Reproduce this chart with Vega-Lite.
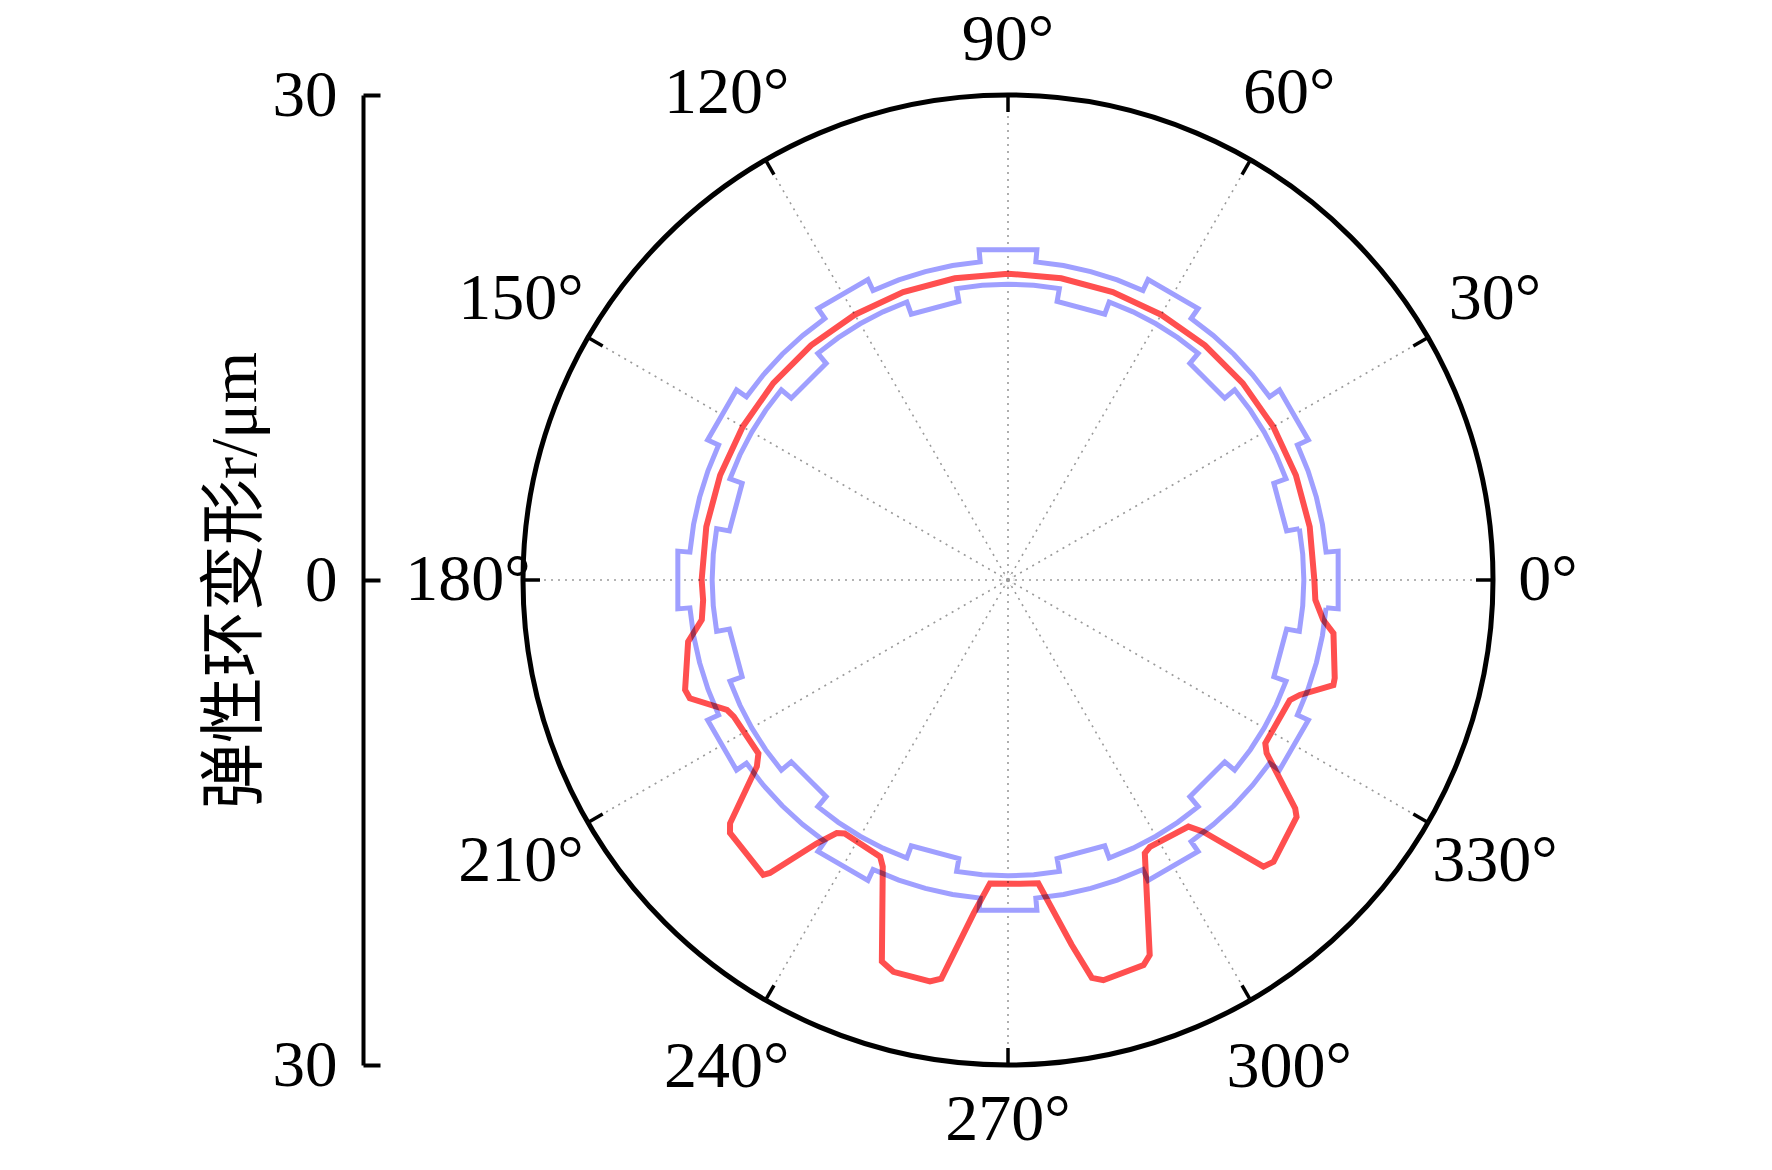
{
  "$schema": "https://vega.github.io/schema/vega-lite/v6.json",
  "width": 970,
  "height": 970,
  "autosize": {"type": "none"},
  "padding": {"left": 523, "top": 95, "right": 279, "bottom": 105},
  "background": "white",
  "view": {"cornerRadius": 485, "stroke": "black", "strokeWidth": 5},
  "datasets": {
    "spokes": [
      {"a": 0}, {"a": 30}, {"a": 60}, {"a": 90}, {"a": 120}, {"a": 150},
      {"a": 180}, {"a": 210}, {"a": 240}, {"a": 270}, {"a": 300}, {"a": 330}
    ],
    "labels": [
      {"t": "0°", "a": 0}, {"t": "30°", "a": 30}, {"t": "60°", "a": 60},
      {"t": "90°", "a": 90}, {"t": "120°", "a": 120}, {"t": "150°", "a": 150},
      {"t": "180°", "a": 180}, {"t": "210°", "a": 210}, {"t": "240°", "a": 240},
      {"t": "270°", "a": 270}, {"t": "300°", "a": 300}, {"t": "330°", "a": 330}
    ],
    "blue": [
      {"s": "o", "a": -5, "r": 19.75}, {"s": "o", "a": -5, "r": 20.5}, {"s": "o", "a": 5, "r": 20.5}, {"s": "o", "a": 5, "r": 19.75}, {"s": "o", "a": 10, "r": 19.75}, {"s": "o", "a": 15, "r": 19.75}, {"s": "o", "a": 20, "r": 19.75},
      {"s": "o", "a": 25, "r": 19.75}, {"s": "o", "a": 25, "r": 20.5}, {"s": "o", "a": 35, "r": 20.5}, {"s": "o", "a": 35, "r": 19.75}, {"s": "o", "a": 40, "r": 19.75}, {"s": "o", "a": 45, "r": 19.75}, {"s": "o", "a": 50, "r": 19.75},
      {"s": "o", "a": 55, "r": 19.75}, {"s": "o", "a": 55, "r": 20.5}, {"s": "o", "a": 65, "r": 20.5}, {"s": "o", "a": 65, "r": 19.75}, {"s": "o", "a": 70, "r": 19.75}, {"s": "o", "a": 75, "r": 19.75}, {"s": "o", "a": 80, "r": 19.75},
      {"s": "o", "a": 85, "r": 19.75}, {"s": "o", "a": 85, "r": 20.5}, {"s": "o", "a": 95, "r": 20.5}, {"s": "o", "a": 95, "r": 19.75}, {"s": "o", "a": 100, "r": 19.75}, {"s": "o", "a": 105, "r": 19.75}, {"s": "o", "a": 110, "r": 19.75},
      {"s": "o", "a": 115, "r": 19.75}, {"s": "o", "a": 115, "r": 20.5}, {"s": "o", "a": 125, "r": 20.5}, {"s": "o", "a": 125, "r": 19.75}, {"s": "o", "a": 130, "r": 19.75}, {"s": "o", "a": 135, "r": 19.75}, {"s": "o", "a": 140, "r": 19.75},
      {"s": "o", "a": 145, "r": 19.75}, {"s": "o", "a": 145, "r": 20.5}, {"s": "o", "a": 155, "r": 20.5}, {"s": "o", "a": 155, "r": 19.75}, {"s": "o", "a": 160, "r": 19.75}, {"s": "o", "a": 165, "r": 19.75}, {"s": "o", "a": 170, "r": 19.75},
      {"s": "o", "a": 175, "r": 19.75}, {"s": "o", "a": 175, "r": 20.5}, {"s": "o", "a": 185, "r": 20.5}, {"s": "o", "a": 185, "r": 19.75}, {"s": "o", "a": 190, "r": 19.75}, {"s": "o", "a": 195, "r": 19.75}, {"s": "o", "a": 200, "r": 19.75},
      {"s": "o", "a": 205, "r": 19.75}, {"s": "o", "a": 205, "r": 20.5}, {"s": "o", "a": 215, "r": 20.5}, {"s": "o", "a": 215, "r": 19.75}, {"s": "o", "a": 220, "r": 19.75}, {"s": "o", "a": 225, "r": 19.75}, {"s": "o", "a": 230, "r": 19.75},
      {"s": "o", "a": 235, "r": 19.75}, {"s": "o", "a": 235, "r": 20.5}, {"s": "o", "a": 245, "r": 20.5}, {"s": "o", "a": 245, "r": 19.75}, {"s": "o", "a": 250, "r": 19.75}, {"s": "o", "a": 255, "r": 19.75}, {"s": "o", "a": 260, "r": 19.75},
      {"s": "o", "a": 265, "r": 19.75}, {"s": "o", "a": 265, "r": 20.5}, {"s": "o", "a": 275, "r": 20.5}, {"s": "o", "a": 275, "r": 19.75}, {"s": "o", "a": 280, "r": 19.75}, {"s": "o", "a": 285, "r": 19.75}, {"s": "o", "a": 290, "r": 19.75},
      {"s": "o", "a": 295, "r": 19.75}, {"s": "o", "a": 295, "r": 20.5}, {"s": "o", "a": 305, "r": 20.5}, {"s": "o", "a": 305, "r": 19.75}, {"s": "o", "a": 310, "r": 19.75}, {"s": "o", "a": 315, "r": 19.75}, {"s": "o", "a": 320, "r": 19.75},
      {"s": "o", "a": 325, "r": 19.75}, {"s": "o", "a": 325, "r": 20.5}, {"s": "o", "a": 335, "r": 20.5}, {"s": "o", "a": 335, "r": 19.75}, {"s": "o", "a": 340, "r": 19.75}, {"s": "o", "a": 345, "r": 19.75}, {"s": "o", "a": 350, "r": 19.75},
      {"s": "o", "a": 355, "r": 19.75},
      {"s": "i", "a": 10, "r": 18.3}, {"s": "i", "a": 10, "r": 17.5}, {"s": "i", "a": 20, "r": 17.5}, {"s": "i", "a": 20, "r": 18.3}, {"s": "i", "a": 25, "r": 18.3}, {"s": "i", "a": 30, "r": 18.3}, {"s": "i", "a": 35, "r": 18.3},
      {"s": "i", "a": 40, "r": 18.3}, {"s": "i", "a": 40, "r": 17.5}, {"s": "i", "a": 50, "r": 17.5}, {"s": "i", "a": 50, "r": 18.3}, {"s": "i", "a": 55, "r": 18.3}, {"s": "i", "a": 60, "r": 18.3}, {"s": "i", "a": 65, "r": 18.3},
      {"s": "i", "a": 70, "r": 18.3}, {"s": "i", "a": 70, "r": 17.5}, {"s": "i", "a": 80, "r": 17.5}, {"s": "i", "a": 80, "r": 18.3}, {"s": "i", "a": 85, "r": 18.3}, {"s": "i", "a": 90, "r": 18.3}, {"s": "i", "a": 95, "r": 18.3},
      {"s": "i", "a": 100, "r": 18.3}, {"s": "i", "a": 100, "r": 17.5}, {"s": "i", "a": 110, "r": 17.5}, {"s": "i", "a": 110, "r": 18.3}, {"s": "i", "a": 115, "r": 18.3}, {"s": "i", "a": 120, "r": 18.3}, {"s": "i", "a": 125, "r": 18.3},
      {"s": "i", "a": 130, "r": 18.3}, {"s": "i", "a": 130, "r": 17.5}, {"s": "i", "a": 140, "r": 17.5}, {"s": "i", "a": 140, "r": 18.3}, {"s": "i", "a": 145, "r": 18.3}, {"s": "i", "a": 150, "r": 18.3}, {"s": "i", "a": 155, "r": 18.3},
      {"s": "i", "a": 160, "r": 18.3}, {"s": "i", "a": 160, "r": 17.5}, {"s": "i", "a": 170, "r": 17.5}, {"s": "i", "a": 170, "r": 18.3}, {"s": "i", "a": 175, "r": 18.3}, {"s": "i", "a": 180, "r": 18.3}, {"s": "i", "a": 185, "r": 18.3},
      {"s": "i", "a": 190, "r": 18.3}, {"s": "i", "a": 190, "r": 17.5}, {"s": "i", "a": 200, "r": 17.5}, {"s": "i", "a": 200, "r": 18.3}, {"s": "i", "a": 205, "r": 18.3}, {"s": "i", "a": 210, "r": 18.3}, {"s": "i", "a": 215, "r": 18.3},
      {"s": "i", "a": 220, "r": 18.3}, {"s": "i", "a": 220, "r": 17.5}, {"s": "i", "a": 230, "r": 17.5}, {"s": "i", "a": 230, "r": 18.3}, {"s": "i", "a": 235, "r": 18.3}, {"s": "i", "a": 240, "r": 18.3}, {"s": "i", "a": 245, "r": 18.3},
      {"s": "i", "a": 250, "r": 18.3}, {"s": "i", "a": 250, "r": 17.5}, {"s": "i", "a": 260, "r": 17.5}, {"s": "i", "a": 260, "r": 18.3}, {"s": "i", "a": 265, "r": 18.3}, {"s": "i", "a": 270, "r": 18.3}, {"s": "i", "a": 275, "r": 18.3},
      {"s": "i", "a": 280, "r": 18.3}, {"s": "i", "a": 280, "r": 17.5}, {"s": "i", "a": 290, "r": 17.5}, {"s": "i", "a": 290, "r": 18.3}, {"s": "i", "a": 295, "r": 18.3}, {"s": "i", "a": 300, "r": 18.3}, {"s": "i", "a": 305, "r": 18.3},
      {"s": "i", "a": 310, "r": 18.3}, {"s": "i", "a": 310, "r": 17.5}, {"s": "i", "a": 320, "r": 17.5}, {"s": "i", "a": 320, "r": 18.3}, {"s": "i", "a": 325, "r": 18.3}, {"s": "i", "a": 330, "r": 18.3}, {"s": "i", "a": 335, "r": 18.3},
      {"s": "i", "a": 340, "r": 18.3}, {"s": "i", "a": 340, "r": 17.5}, {"s": "i", "a": 350, "r": 17.5}, {"s": "i", "a": 350, "r": 18.3}, {"s": "i", "a": 355, "r": 18.3}, {"s": "i", "a": 360, "r": 18.3}, {"s": "i", "a": 365, "r": 18.3},
      {"s": "i", "a": 370, "r": 18.3}
    ],
    "red": [
      {"a": 0, "r": 18.95}, {"a": 10, "r": 18.95}, {"a": 20, "r": 18.95}, {"a": 30, "r": 18.95},
      {"a": 40, "r": 18.95}, {"a": 50, "r": 18.95}, {"a": 60, "r": 18.95}, {"a": 70, "r": 18.95},
      {"a": 80, "r": 18.95}, {"a": 90, "r": 18.95}, {"a": 100, "r": 18.95}, {"a": 110, "r": 18.95},
      {"a": 120, "r": 18.95}, {"a": 130, "r": 18.95}, {"a": 140, "r": 18.95}, {"a": 150, "r": 18.95},
      {"a": 160, "r": 18.95}, {"a": 170, "r": 18.95}, {"a": 180, "r": 18.95}, {"a": 183.8, "r": 18.9},
      {"a": 187.4, "r": 19.1}, {"a": 190.9, "r": 20.15}, {"a": 198.8, "r": 21.1}, {"a": 200.4, "r": 21.0},
      {"a": 204.8, "r": 19.15}, {"a": 206.5, "r": 18.95}, {"a": 214.8, "r": 18.8}, {"a": 216.6, "r": 19.35},
      {"a": 221.2, "r": 22.85}, {"a": 222.3, "r": 23.25}, {"a": 230.3, "r": 23.7}, {"a": 230.9, "r": 23.35},
      {"a": 234.0, "r": 20.15}, {"a": 235.9, "r": 18.9}, {"a": 237.2, "r": 18.65}, {"a": 245.2, "r": 18.85},
      {"a": 246.4, "r": 19.35}, {"a": 251.7, "r": 24.85}, {"a": 253.7, "r": 25.25}, {"a": 259.0, "r": 25.3},
      {"a": 260.5, "r": 25.0}, {"a": 264.1, "r": 20.75}, {"a": 266.6, "r": 18.8}, {"a": 272.3, "r": 18.8},
      {"a": 275.7, "r": 18.85}, {"a": 279.9, "r": 22.9}, {"a": 281.9, "r": 25.15}, {"a": 283.4, "r": 25.45},
      {"a": 289.4, "r": 25.25}, {"a": 290.7, "r": 24.8}, {"a": 296.6, "r": 18.9}, {"a": 298.0, "r": 18.7},
      {"a": 306.2, "r": 18.9}, {"a": 307.8, "r": 19.7}, {"a": 311.7, "r": 23.75}, {"a": 313.3, "r": 23.95},
      {"a": 320.6, "r": 23.1}, {"a": 321.5, "r": 22.7}, {"a": 326.2, "r": 19.25}, {"a": 327.6, "r": 18.85},
      {"a": 336.9, "r": 18.95}, {"a": 338.5, "r": 19.4}, {"a": 342.1, "r": 21.15}, {"a": 343.3, "r": 21.1},
      {"a": 350.7, "r": 20.4}, {"a": 352.8, "r": 19.65}, {"a": 356.3, "r": 19.05}, {"a": 360, "r": 18.95}
    ]
  },
  "encoding": {
    "x": {
      "field": "x",
      "type": "quantitative",
      "scale": {"domain": [-30, 30], "nice": false, "zero": false},
      "axis": null
    },
    "y": {
      "field": "y",
      "type": "quantitative",
      "scale": {"domain": [-30, 30], "nice": false, "zero": false},
      "axis": {
        "values": [-30, 0, 30],
        "labelExpr": "abs(datum.value)",
        "offset": 160,
        "grid": false,
        "domainColor": "black",
        "domainWidth": 4,
        "tickColor": "black",
        "tickWidth": 4,
        "tickSize": -17,
        "labelPadding": 43,
        "labelFlush": false,
        "labelOverlap": false,
        "labelFont": "Liberation Serif",
        "labelFontSize": 65,
        "labelColor": "black",
        "title": "弹性环变形r/μm",
        "titleFont": "Liberation Serif, Noto Sans CJK SC",
        "titleFontSize": 66,
        "titleFontWeight": "normal",
        "titleColor": "black",
        "titleAngle": -90,
        "titleAlign": "center",
        "titleBaseline": "middle",
        "titleX": -128,
        "titleY": 485
      }
    }
  },
  "layer": [
    {
      "data": {"name": "spokes"},
      "transform": [
        {"calculate": "0", "as": "x"},
        {"calculate": "0", "as": "y"},
        {"calculate": "30*cos(datum.a*PI/180)", "as": "x2"},
        {"calculate": "30*sin(datum.a*PI/180)", "as": "y2"}
      ],
      "mark": {"type": "rule", "stroke": "#9a9a9a", "strokeWidth": 1.6, "strokeDash": [2, 5]},
      "encoding": {"x2": {"field": "x2"}, "y2": {"field": "y2"}}
    },
    {
      "data": {"name": "spokes"},
      "transform": [
        {"calculate": "28.95*cos(datum.a*PI/180)", "as": "x"},
        {"calculate": "28.95*sin(datum.a*PI/180)", "as": "y"},
        {"calculate": "30*cos(datum.a*PI/180)", "as": "x2"},
        {"calculate": "30*sin(datum.a*PI/180)", "as": "y2"}
      ],
      "mark": {"type": "rule", "stroke": "black", "strokeWidth": 3.5},
      "encoding": {"x2": {"field": "x2"}, "y2": {"field": "y2"}}
    },
    {
      "data": {"values": [{"x": 0, "y": 0}]},
      "mark": {"type": "point", "shape": "circle", "size": 150, "filled": false, "stroke": "#999999", "strokeWidth": 1, "strokeDash": [1, 2]}
    },
    {
      "data": {"name": "blue"},
      "transform": [
        {"calculate": "datum.r*cos(datum.a*PI/180)", "as": "x"},
        {"calculate": "datum.r*sin(datum.a*PI/180)", "as": "y"}
      ],
      "mark": {"type": "line", "stroke": "#9f9fff", "strokeWidth": 5},
      "encoding": {"detail": {"field": "s"}, "order": {"value": null}}
    },
    {
      "data": {"name": "red"},
      "transform": [
        {"calculate": "datum.r*cos(datum.a*PI/180)", "as": "x"},
        {"calculate": "datum.r*sin(datum.a*PI/180)", "as": "y"}
      ],
      "mark": {"type": "line", "stroke": "#ff4f4f", "strokeWidth": 6, "blend": "multiply"},
      "encoding": {"order": {"value": null}}
    },
    {
      "data": {"name": "labels"},
      "transform": [
        {"calculate": "33.4 + 1.6*abs(sin(2*datum.a*PI/180))", "as": "lr"},
        {"calculate": "datum.lr*cos(datum.a*PI/180)", "as": "x"},
        {"calculate": "datum.lr*sin(datum.a*PI/180)", "as": "y"}
      ],
      "mark": {"type": "text", "font": "Liberation Serif", "fontSize": 66, "align": "center", "baseline": "middle", "color": "black"},
      "encoding": {"text": {"field": "t"}}
    }
  ]
}
